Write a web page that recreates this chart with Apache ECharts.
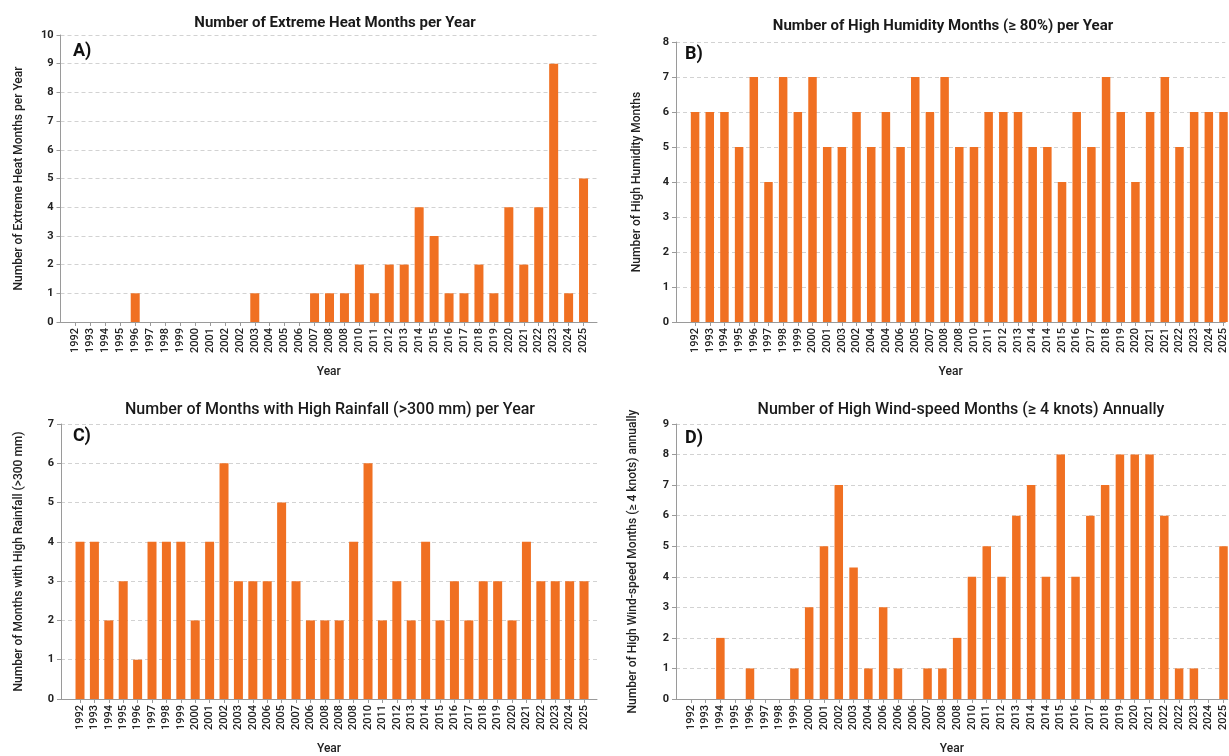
<!DOCTYPE html>
<html>
<head>
<meta charset="utf-8">
<script src="https://cdn.jsdelivr.net/npm/echarts@6/dist/echarts.min.js"></script>
<style>
html,body{margin:0;padding:0;background:#fff;}
#chart{width:1229px;height:756px;}
</style>
</head>
<body>
<div id="chart"></div>
<script>
// ---- Data ----
const yearsA = ['1992','1993','1994','1995','1996','1997','1998','1999','2000','2001','2002','2002','2003','2004','2005','2006','2007','2008','2008','2010','2011','2012','2013','2014','2015','2016','2017','2018','2019','2020','2021','2022','2023','2024','2025'];
const heatA = [0,0,0,0,1,0,0,0,0,0,0,0,1,0,0,0,1,1,1,2,1,2,2,4,3,1,1,2,1,4,2,4,9,1,5];

const yearsB = ['1992','1993','1994','1995','1996','1997','1998','1999','2000','2001','2003','2002','2004','2004','2006','2005','2007','2008','2008','2010','2011','2012','2013','2014','2014','2015','2016','2017','2018','2019','2020','2021','2021','2022','2023','2024','2025'];
const humidB = [6,6,6,5,7,4,7,6,7,5,5,6,5,6,5,7,6,7,5,5,6,6,6,5,5,4,6,5,7,6,4,6,7,5,6,6,6];

const yearsC = ['1992','1993','1994','1995','1996','1997','1998','1999','2000','2001','2002','2003','2004','2006','2005','2007','2006','2008','2008','2008','2010','2011','2012','2013','2014','2015','2016','2017','2018','2019','2020','2021','2022','2023','2024','2025'];
const rainC = [4,4,2,3,1,4,4,4,2,4,6,3,3,3,5,3,2,2,2,4,6,2,3,2,4,2,3,2,3,3,2,4,3,3,3,3];

const yearsD = ['1992','1993','1994','1995','1996','1997','1998','1999','2000','2001','2002','2003','2004','2006','2006','2006','2007','2008','2008','2010','2011','2012','2013','2014','2014','2015','2016','2017','2018','2019','2020','2021','2022','2022','2023','2024','2025'];
const windD = [0,0,2,0,1,0,0,1,3,5,7,4.3,1,3,1,0,1,1,2,4,5,4,6,7,4,8,4,6,7,8,8,8,6,1,1,0,5];

const titles = [
  'Number of Extreme Heat Months per Year',
  'Number of High Humidity Months (\u2265 80%) per Year',
  'Number of Months with High Rainfall (>300 mm) per Year',
  'Number of High Wind-speed Months (\u2265 4 knots) Annually'
];
const yNames = [
  'Number of Extreme Heat Months per Year',
  'Number of High Humidity Months',
  'Number of Months with High Rainfall (>300 mm)',
  'Number of High Wind-speed Months (\u2265 4 knots) annually'
];
const yMax = [10, 8, 7, 9];
const panelLetters = ['A)', 'B)', 'C)', 'D)'];

// ---- Layout / style ----
const FONT = 'Roboto, "Noto Sans", sans-serif';
const BAR = '#F07022';
const AXIS = '#9a9a9a';
const panels = [
  {labels: yearsA, values: heatA, grid:{left:60.5, top:35, width:536.5, height:287}, xmin:-1, xmax:34.9, gap:36, barW:9},
  {labels: yearsB, values: humidB, grid:{left:676, top:42, width:553, height:280}, xmin:-1.3, xmax:36.12, gap:33, barW:8.5},
  {labels: yearsC, values: rainC, grid:{left:61, top:424, width:536, height:278}, xmin:-1.32, xmax:35.9, gap:36, barW:9},
  {labels: yearsD, values: windD, grid:{left:676, top:424, width:553, height:278}, xmin:-1.0, xmax:36.29, gap:37, barW:8.5}
];
const titlePos = [
  {left:330, top:11, weight:'bold', size:15},
  {left:938, top:14, weight:'bold', size:15},
  {left:325, top:397, weight:500, size:16},
  {left:956, top:397, weight:500, size:16}
];
const letterPos = [[73,42],[685,45],[73,427],[685,429]];

const chart = echarts.init(document.getElementById('chart'), null, {renderer:'canvas'});

const option = {
  animation: false,
  backgroundColor: '#fff',
  title: titles.map((t, i) => ({
    text: t, left: titlePos[i].left, top: titlePos[i].top, textAlign: 'center',
    textStyle: {fontFamily: FONT, fontSize: titlePos[i].size, fontWeight: titlePos[i].weight, color: '#1a1a1a'}
  })),
  grid: panels.map(p => Object.assign({containLabel:false}, p.grid)),
  xAxis: panels.map((p, i) => {
    const idx = p.labels.map((_, k) => k);
    return {
      type: 'value', gridIndex: i, min: p.xmin, max: p.xmax,
      axisLine: {show: true, onZero: false, lineStyle: {color: AXIS, width: 1}},
      axisTick: {show: true, customValues: idx, length: 4, lineStyle: {color: AXIS}},
      axisLabel: {
        customValues: idx, rotate: 90, margin: 6,
        formatter: v => { const k = Math.round(v); return (Math.abs(v - k) < 1e-6 && p.labels[k] !== undefined) ? p.labels[k] : ''; },
        fontFamily: FONT, fontSize: 11, fontWeight: 500, color: '#222'
      },
      splitLine: {show: false},
      name: 'Year', nameLocation: 'middle', nameGap: 44,
      nameTextStyle: {fontFamily: FONT, fontSize: 12, fontWeight: 500, color: '#222'}
    };
  }),
  yAxis: panels.map((p, i) => ({
    type: 'value', gridIndex: i, min: 0, max: yMax[i], interval: 1,
    axisLine: {show: true, onZero: false, lineStyle: {color: AXIS, width: 1}},
    axisTick: {show: true, length: 4, lineStyle: {color: AXIS}},
    axisLabel: {fontFamily: FONT, fontSize: 11, fontWeight: 'bold', color: '#222', margin: 7},
    splitLine: {show: true, lineStyle: {color: '#d2d2d2', type: [4, 3], width: 1}},
    name: yNames[i], nameLocation: 'middle', nameGap: p.gap, nameRotate: 90,
    nameTextStyle: {fontFamily: FONT, fontSize: 12, fontWeight: 500, color: '#222'}
  })),
  series: panels.map((p, i) => ({
    type: 'bar', xAxisIndex: i, yAxisIndex: i,
    data: p.values.map((v, k) => [k, v]),
    barWidth: p.barW,
    itemStyle: {color: BAR},
    silent: true
  })),
  graphic: panelLetters.map((t, i) => ({
    type: 'text', left: letterPos[i][0], top: letterPos[i][1],
    style: {text: t, font: 'bold 18px ' + FONT, fill: '#111'}
  }))
};
chart.setOption(option);
</script>
</body>
</html>
